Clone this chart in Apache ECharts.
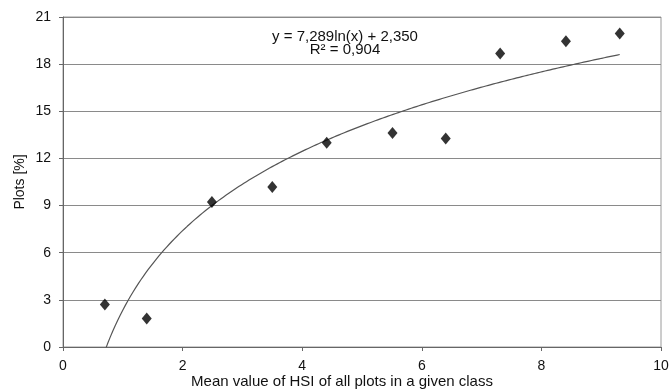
<!DOCTYPE html>
<html>
<head>
<meta charset="utf-8">
<script src="https://cdn.jsdelivr.net/npm/echarts@6/dist/echarts.min.js"></script>
<style>
  html, body { margin: 0; padding: 0; background: #fff; }
  #chart { width: 670px; height: 390px; }
</style>
</head>
<body>
<div id="chart"></div>
<script>
// mean HSI per class (x) and share of plots in % (y)
const hsiValues = [0.70, 1.40, 2.49, 3.50, 4.41, 5.51, 6.40, 7.31, 8.41, 9.31];
const plotShares = [2.70, 1.81, 9.23, 10.18, 12.99, 13.62, 13.27, 18.68, 19.46, 19.95];

// logarithmic trendline as printed on the chart
const trendA = 7.289;
const trendB = 2.350;
const trendText = ["y = 7,289ln(x) + 2,350", "R² = 0,904"];

const font = "Liberation Sans, Arial, sans-serif";

const points = hsiValues.map((x, i) => [x, plotShares[i]]);

const trend = [];
const x0 = hsiValues[0];
const x1 = hsiValues[hsiValues.length - 1];
for (let k = 0; k <= 200; k++) {
  const x = x0 + (x1 - x0) * k / 200;
  trend.push([x, trendA * Math.log(x) + trendB]);
}

const chart = echarts.init(document.getElementById("chart"), null, { renderer: "canvas" });

chart.setOption({
  animation: false,
  backgroundColor: "#ffffff",
  grid: {
    left: 63, right: 9, top: 17, bottom: 43,
    outerBoundsMode: "none",
    containLabel: false,
    show: true,
    borderColor: "#9a9a9a",
    borderWidth: 1
  },
  xAxis: {
    type: "value",
    min: 0, max: 10, interval: 2,
    name: "Mean value of HSI of all plots in a given class",
    nameLocation: "middle",
    nameGap: 27,
    nameMoveOverlap: false,
    nameTextStyle: { color: "#111", fontFamily: font, fontSize: 15, padding: [0, 40, 0, 0] },
    axisLine: { lineStyle: { color: "#666", width: 1 } },
    axisTick: { show: true, length: 4, lineStyle: { color: "#666" } },
    axisLabel: { color: "#111", fontFamily: font, fontSize: 14, margin: 12 },
    splitLine: { show: false }
  },
  yAxis: {
    type: "value",
    min: 0, max: 21, interval: 3,
    name: "Plots [%]",
    nameLocation: "middle",
    nameGap: 36,
    nameMoveOverlap: false,
    nameTextStyle: { color: "#111", fontFamily: font, fontSize: 14 },
    axisLine: { show: true, lineStyle: { color: "#666", width: 1 } },
    axisTick: { show: true, length: 4, lineStyle: { color: "#666" } },
    axisLabel: { color: "#111", fontFamily: font, fontSize: 14, margin: 12 },
    splitLine: { show: true, lineStyle: { color: "#8a8a8a", width: 1 } }
  },
  graphic: [
    {
      type: "text",
      x: 345, y: 30,
      style: {
        text: trendText.join("\n"),
        align: "center",
        fill: "#111",
        font: "15px " + font,
        lineHeight: 13
      }
    }
  ],
  series: [
    {
      type: "line",
      data: trend,
      showSymbol: false,
      smooth: false,
      clip: true,
      lineStyle: { color: "#555", width: 1.2 },
      z: 2
    },
    {
      type: "scatter",
      data: points,
      symbol: "diamond",
      symbolSize: [10, 12],
      itemStyle: { color: "#000" },
      z: 3
    }
  ]
});
</script>
</body>
</html>
